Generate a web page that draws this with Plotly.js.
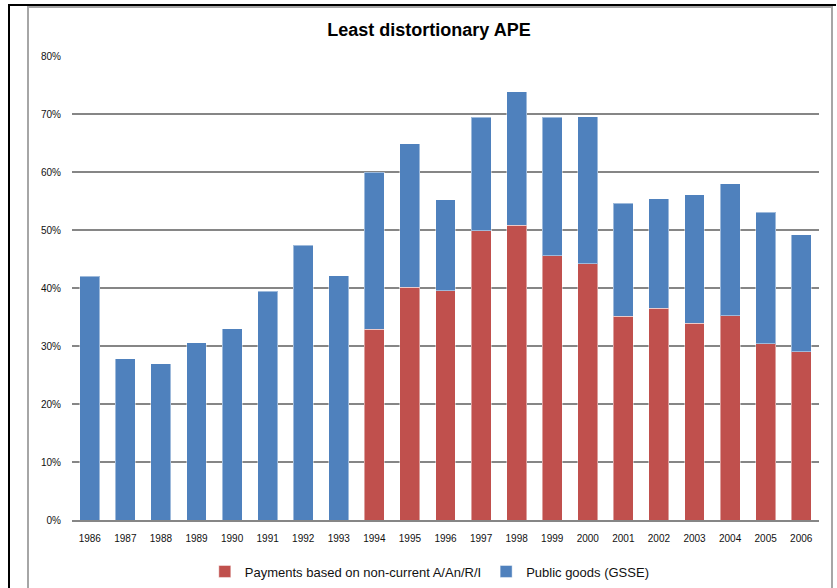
<!DOCTYPE html>
<html>
<head>
<meta charset="utf-8">
<script src="https://cdn.plot.ly/plotly-3.0.1.min.js"></script>
<style>
  html, body { margin: 0; padding: 0; background: #ffffff; }
  #wrap { position: relative; width: 837px; height: 588px; overflow: hidden; }
  #outer { position: absolute; left: 8px; top: 4px; width: 826px; height: 600px;
           border-left: 2px solid #000; border-top: 2px solid #000; }
  #inner { position: absolute; left: 27px; top: 6px; width: 802px; height: 600px;
           border-left: 2px solid #a6a6a6; border-top: 2px solid #a6a6a6; border-right: 2px solid #a6a6a6; }
  #chart { position: absolute; left: 0; top: 0; width: 837px; height: 588px; }
</style>
</head>
<body>
<div id="wrap">
  <div id="outer"></div>
  <div id="inner"></div>
  <div id="chart"></div>
</div>
<script>
const years = ["1986","1987","1988","1989","1990","1991","1992","1993","1994","1995","1996",
               "1997","1998","1999","2000","2001","2002","2003","2004","2005","2006"];
const payments = [0, 0, 0, 0, 0, 0, 0, 0, 32.9, 40.1, 39.5,
                  49.9, 50.8, 45.6, 44.2, 35.1, 36.5, 33.9, 35.2, 30.4, 29.0];
const publicGoods = [42.0, 27.8, 26.9, 30.6, 33.0, 39.4, 47.4, 42.1, 27.1, 24.8, 15.7,
                     19.5, 23.0, 23.8, 25.3, 19.5, 18.9, 22.2, 22.8, 22.7, 20.2];
const yTicks = [0, 10, 20, 30, 40, 50, 60, 70, 80];
const yTickLabels = ["0%", "10%", "20%", "30%", "40%", "50%", "60%", "70%", "80%"];

const traces = [
  { type: "bar", name: "Payments based on non-current A/An/R/I", x: years, y: payments,
    marker: { color: "#C0504D", line: { color: "rgba(255,255,255,0.45)", width: 1 } },
    hoverinfo: "x+y" },
  { type: "bar", name: "Public goods (GSSE)", x: years, y: publicGoods,
    marker: { color: "#4F81BD", line: { color: "rgba(255,255,255,0.45)", width: 1 } },
    hoverinfo: "x+y" }
];

const layout = {
  width: 837, height: 588,
  margin: { l: 72, r: 18, t: 56, b: 68, pad: 0, autoexpand: false },
  paper_bgcolor: "rgba(0,0,0,0)",
  plot_bgcolor: "rgba(0,0,0,0)",
  barmode: "stack",
  bargap: 0.44,
  font: { family: "Liberation Sans, Arial, sans-serif", size: 10, color: "#111" },
  title: { text: "<b>Least distortionary APE</b>", x: 0.5125, xanchor: "center",
           y: 0.949, yanchor: "middle", xref: "container", yref: "container",
           font: { family: "Liberation Sans, Arial, sans-serif", size: 18, color: "#000" } },
  xaxis: { type: "category", showgrid: false, showline: true, linecolor: "#868686", linewidth: 2,
           ticks: "", ticklabelstandoff: 8, tickfont: { size: 10, color: "#111" }, fixedrange: true },
  yaxis: { range: [0, 80], tickvals: yTicks, ticktext: yTickLabels, showgrid: true,
           gridcolor: "#868686", gridwidth: 2, zeroline: false, showline: false,
           ticks: "", ticklabelstandoff: 10, tickfont: { size: 10, color: "#111" }, fixedrange: true },
  legend: { orientation: "h", x: 0.479, xanchor: "center", y: -0.111, yanchor: "middle",
            traceorder: "normal", itemwidth: 30, font: { size: 13, color: "#111" },
            bgcolor: "rgba(0,0,0,0)" },
  showlegend: true
};

Plotly.newPlot("chart", traces, layout, { displayModeBar: false, staticPlot: true });
</script>
</body>
</html>
